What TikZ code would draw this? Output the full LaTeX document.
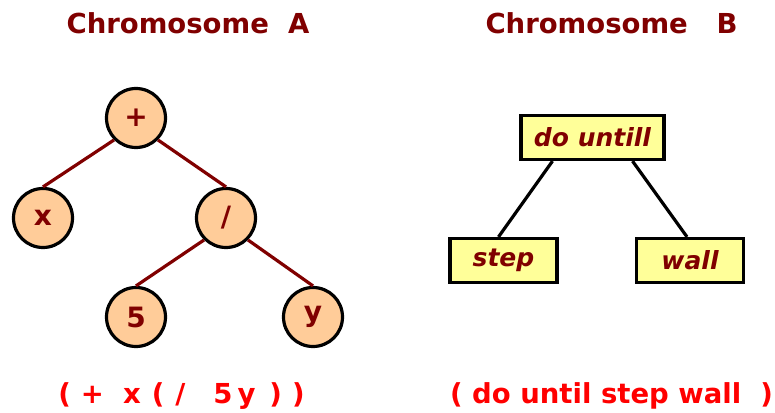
\documentclass[tikz,border=0pt]{standalone}
\usepackage{fontspec}
\setmainfont{DejaVu Sans}
\usepackage{tikz}
\usepackage{xcolor}
\usetikzlibrary{positioning, calc}

\definecolor{darkred}{HTML}{800000}
\definecolor{peach}{HTML}{FFCC99}
\definecolor{paleyellow}{HTML}{FFFF99}

\begin{document}
\begin{tikzpicture}[x=1pt, y=1pt,
        title/.style={anchor=base, text=darkred, font=\fontsize{27.5}{30}\selectfont\bfseries},
        lisp/.style={anchor=base, text=red, font=\fontsize{27.5}{30}\selectfont\bfseries},
        atom/.style={circle, draw=black, line width=3.2pt, fill=peach, minimum size=59pt, inner sep=0pt,
            text=darkred, font=\fontsize{28}{30}\selectfont\bfseries},
        gene/.style={rectangle, draw=black, line width=3.2pt, fill=paleyellow, minimum height=44pt,
            minimum width=107pt, inner xsep=13pt, text=darkred, font=\fontsize{25}{28}\selectfont\bfseries\itshape},
        branchA/.style={draw=darkred, line width=3.2pt},
        branchB/.style={draw=black, line width=3.2pt}]
    \useasboundingbox (0, 0) rectangle (775, 412);

    % headings
    \node[title] (titleA) at (188, 378) {Chromosome\ \ A};
    \node[title] (titleB) at (611.5, 378) {Chromosome\ \ \ B};

    % chromosome A
    \node[atom] (plus) at (136, 294) {+};
    \node[atom] (x) at (43, 194) {x};
    \node[atom] (div) at (226, 194) {/};
    \node[atom] (five) at (136, 95) {5};
    \node[atom] (y) at (313, 95) {y};
    \draw[branchA] (plus.south west) -- (x.north);
    \draw[branchA] (plus.south east) -- (div.north);
    \draw[branchA] (div.south west) -- (five.north);
    \draw[branchA] (div.south east) -- (y.north);

    % chromosome B
    \node[gene] (do) at (592.5, 274.5) {do untill};
    \node[gene] (step) at (503.5, 151.5) {step};
    \node[gene] (wall) at (690, 151.5) {wall};
    \draw[branchB] ([xshift=-40pt]do.south) -- ([xshift=-5pt]step.north);
    \draw[branchB] ([xshift=40pt]do.south) -- ([xshift=-3pt]wall.north);

    % prefix forms
    \node[lisp] (formA) at (181.5, 9)
        {(\hspace{10pt}+\hspace{19pt}x\hspace{11pt}(\hspace{11pt}/\hspace{28pt}5\hspace{5pt}y\hspace{14pt})\hspace{10pt})};
    \node[lisp] (formB) at (611.5, 9) {( do until step wall\ \ )};
\end{tikzpicture}
\end{document}
